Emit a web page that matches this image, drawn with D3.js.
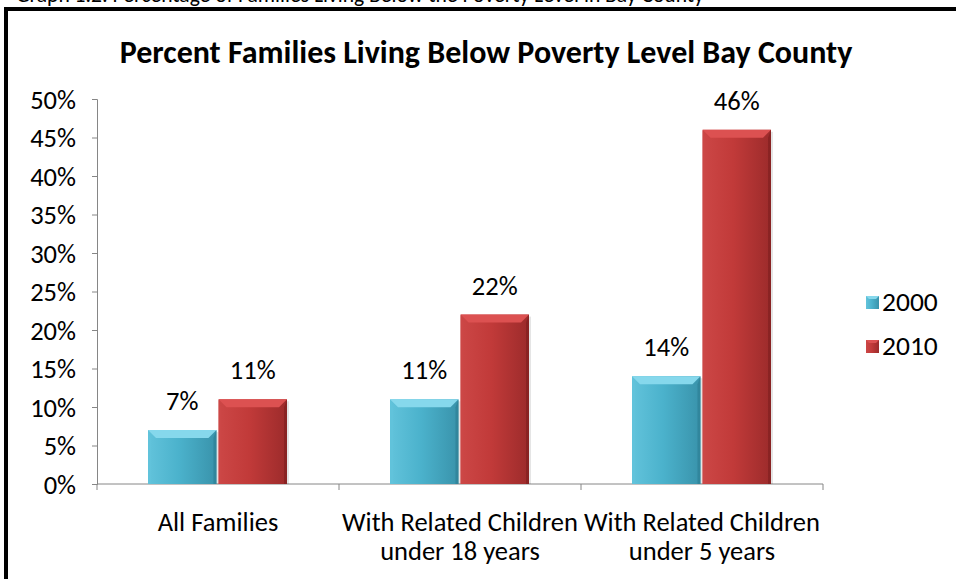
<!DOCTYPE html>
<html>
<head>
<meta charset="utf-8">
<script src="https://cdn.jsdelivr.net/npm/d3@7"></script>
<style>
  html, body { margin: 0; padding: 0; background: #fff; }
  svg { display: block; }
  text { font-family: Carlito, Calibri, Lato, "Noto Sans", sans-serif; fill: #000; }
</style>
</head>
<body>
<svg id="chart" width="956" height="579"></svg>
<script>
// Chart data
const categories = [
  ["All Families"],
  ["With Related Children", "under 18 years"],
  ["With Related Children", "under 5 years"]
];
const seriesNames = ["2000", "2010"];
const values2000 = [0.07, 0.11, 0.14];
const values2010 = [0.11, 0.22, 0.46];
const yTicks = [0, 0.05, 0.10, 0.15, 0.20, 0.25, 0.30, 0.35, 0.40, 0.45, 0.50];
const titleText = "Percent Families Living Below Poverty Level Bay County";
const captionText = "Graph 1.2: Percentage of Families Living Below the Poverty Level in Bay County";

const seriesValues = [values2000, values2010];
const catKeys = categories.map((c, i) => String(i));

const svg = d3.select("#chart");
const W = 956, H = 579;

// Palette with bevel shades per series
const palette = {
  "2000": { body: "#4BB2CC", light: "#86D8EC", edgeL: "#62C3DB", edgeR: "#3993AB", dark: "#2F8299" },
  "2010": { body: "#C13A39", light: "#DC5151", edgeL: "#CC4746", edgeR: "#9C2B2B", dark: "#842222" }
};

const defs = svg.append("defs");
seriesNames.forEach(s => {
  const p = palette[s];
  const g = defs.append("linearGradient").attr("id", "grad" + s)
    .attr("x1", "0").attr("x2", "1").attr("y1", "0").attr("y2", "0");
  g.append("stop").attr("offset", "0").attr("stop-color", p.edgeL);
  g.append("stop").attr("offset", "0.45").attr("stop-color", p.body);
  g.append("stop").attr("offset", "1").attr("stop-color", p.edgeR);
});

// Caption above the frame (partly hidden)
svg.append("text")
  .attr("x", 16).attr("y", 2)
  .style("font-size", "21.6px")
  .text(captionText);

// Frame
svg.append("rect").attr("x", 0).attr("y", 7).attr("width", W).attr("height", H)
  .attr("fill", "#fff");
svg.append("line").attr("x1", 4).attr("x2", W).attr("y1", 9).attr("y2", 9)
  .attr("stroke", "#000").attr("stroke-width", 4);
svg.append("line").attr("x1", 6).attr("x2", 6).attr("y1", 7).attr("y2", H)
  .attr("stroke", "#000").attr("stroke-width", 4);

// Title
svg.append("text")
  .attr("x", 486).attr("y", 63)
  .attr("text-anchor", "middle")
  .style("font-size", "32px").style("font-weight", "bold")
  .text(titleText);

// Scales
const x0 = d3.scaleBand().domain(catKeys).range([97, 823]);
const x1 = d3.scaleBand().domain(seriesNames).range([51, 190]).paddingInner(0.03);
const y = d3.scaleLinear().domain([0, 0.5]).range([484, 99]);

// Y axis
const yAxis = svg.append("g").attr("transform", "translate(97,0)")
  .call(d3.axisLeft(y).tickValues(yTicks).tickFormat(d3.format(".0%")).tickSizeOuter(0).tickSize(5).tickPadding(16));
yAxis.select(".domain").attr("stroke", "#868686");
yAxis.selectAll(".tick line").attr("stroke", "#868686");
yAxis.selectAll(".tick text").style("font-size", "26.5px").attr("fill", "#000")
  .attr("dy", "0.34em")
  .style("font-family", "Carlito, Calibri, Lato, 'Noto Sans', sans-serif");

// X axis with boundary ticks
const xAxisG = svg.append("g").attr("transform", "translate(0,484)");
xAxisG.append("line").attr("x1", 97).attr("x2", 823).attr("y1", 0).attr("y2", 0)
  .attr("stroke", "#868686");
const bounds = catKeys.map(k => x0(k)).concat([x0(catKeys[catKeys.length - 1]) + x0.bandwidth()]);
xAxisG.selectAll("line.bt").data(bounds).enter().append("line").attr("class", "bt")
  .attr("x1", d => d).attr("x2", d => d).attr("y1", 0).attr("y2", 6)
  .attr("stroke", "#868686");

// Category labels
categories.forEach((lines, i) => {
  const cx = x0(catKeys[i]) + x0.bandwidth() / 2;
  const t = svg.append("text").attr("text-anchor", "middle")
    .attr("x", cx).attr("y", 531).style("font-size", "26.5px");
  lines.forEach((ln, j) => {
    t.append("tspan").attr("x", cx).attr("dy", j === 0 ? 0 : 29).text(ln);
  });
});

// Bars with bevel
const bevel = 8;
seriesNames.forEach((s, si) => {
  const p = palette[s];
  const g = svg.append("g");
  seriesValues[si].forEach((v, i) => {
    const bx = x0(catKeys[i]) + x1(s);
    const bw = x1.bandwidth();
    const by = y(v);
    const bh = y(0) - by;
    const bar = g.append("g");
    // soft shadow
    bar.append("rect").attr("x", bx + 2).attr("y", by + 2).attr("width", bw).attr("height", bh - 2)
      .attr("fill", "#000").attr("opacity", 0.1);
    bar.append("rect").attr("x", bx).attr("y", by).attr("width", bw).attr("height", bh)
      .attr("fill", "url(#grad" + s + ")");
    // top bevel
    bar.append("polygon")
      .attr("points", [[bx, by], [bx + bw, by], [bx + bw - bevel, by + bevel], [bx + bevel, by + bevel]].map(q => q.join(",")).join(" "))
      .attr("fill", p.light);
    // left bevel
    bar.append("polygon")
      .attr("points", [[bx, by], [bx + 3, by + bevel], [bx + 3, y(0)], [bx, y(0)]].map(q => q.join(",")).join(" "))
      .attr("fill", p.edgeL).attr("opacity", 0.8);
    // right bevel
    bar.append("polygon")
      .attr("points", [[bx + bw, by], [bx + bw - 3, by + bevel], [bx + bw - 3, y(0)], [bx + bw, y(0)]].map(q => q.join(",")).join(" "))
      .attr("fill", p.dark).attr("opacity", 0.8);
    // value label
    svg.append("text").attr("text-anchor", "middle")
      .attr("x", bx + bw / 2).attr("y", by - 20)
      .style("font-size", "26.5px")
      .text(d3.format(".0%")(v));
  });
});

// Legend
seriesNames.forEach((s, i) => {
  const p = palette[s];
  const ly = 302 + i * 44;
  const lg = svg.append("g");
  lg.append("rect").attr("x", 866).attr("y", ly - 6).attr("width", 13).attr("height", 13)
    .attr("fill", "url(#grad" + s + ")");
  lg.append("polygon")
    .attr("points", [[866, ly - 6], [879, ly - 6], [876, ly - 3], [869, ly - 3]].map(q => q.join(",")).join(" "))
    .attr("fill", p.light);
  lg.append("text").attr("x", 882).attr("y", ly + 9).style("font-size", "27.5px").text(s);
});
</script>
</body>
</html>
